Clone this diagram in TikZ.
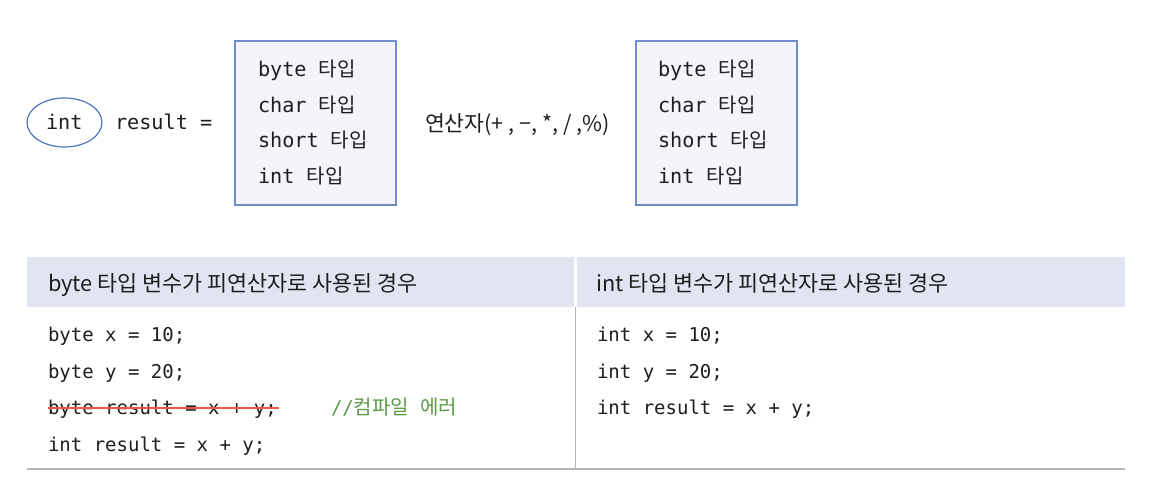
\documentclass[tikz,border=0pt]{standalone}
\usepackage{fontspec}
\setmainfont{Noto Sans CJK KR}
\newfontfamily\kr{Noto Sans CJK KR}
\newfontfamily\cmono{DejaVu Sans Mono}
\usetikzlibrary{shapes.geometric}
\definecolor{ink}{HTML}{1E1E1E}
\definecolor{boxline}{HTML}{6E8FCB}
\definecolor{boxfill}{HTML}{F4F5FA}
\definecolor{ellline}{HTML}{4D74C0}
\definecolor{hdrfill}{HTML}{E1E5F2}
\definecolor{rulegray}{HTML}{B4B4B4}
\definecolor{strikered}{HTML}{E8584A}
\definecolor{cmtgreen}{HTML}{5A9A47}
\newcommand\krtype{{\kr\fontsize{20}{24}\selectfont 타입}}
\newcommand\krcode[1]{{\kr\fontsize{20}{24}\selectfont #1}}
\begin{document}
\begin{tikzpicture}[x=1pt,y=-1pt,
  txt/.style={anchor=base west, inner sep=0pt, outer sep=0pt, text=ink},
  big/.style={txt, font=\cmono\fontsize{20.2}{24}\selectfont},
  code/.style={txt, font=\cmono\fontsize{19}{23}\selectfont},
  hdr/.style={txt, font=\kr\fontsize{21.8}{26}\selectfont},
  opstyle/.style={txt, font=\kr\fontsize{21.6}{25}\selectfont},
  typebox/.style={draw=boxline, fill=boxfill, line width=1.2pt, minimum width=161pt, minimum height=164pt, inner sep=0pt},
  strikeline/.style={color=strikered, line width=2pt},
  ]
\useasboundingbox[fill=white] (0,0) rectangle (1150,494);

% top row
\node[ellipse, draw=ellline, line width=1.2pt, minimum width=75pt, minimum height=49pt, inner sep=0pt] (ell) at (64.5,122.5) {};
\node[big] (intw) at (46,130) {int};
\node[big] (resw) at (115,130) {result =};

\node[typebox] (box1) at (315.5,123) {};
\node[big] (b1a) at (258,77) {byte \krtype};
\node[big] (b1b) at (258,112.5) {char \krtype};
\node[big] (b1c) at (258,148) {short \krtype};
\node[big] (b1d) at (258,183.5) {int \krtype};

\node[opstyle] (ops) at (425,132) {연산자(+ , −, *, / ,\%)};

\node[typebox] (box2) at (716.5,123) {};
\node[big] (b2a) at (658,77) {byte \krtype};
\node[big] (b2b) at (658,112.5) {char \krtype};
\node[big] (b2c) at (658,148) {short \krtype};
\node[big] (b2d) at (658,183.5) {int \krtype};

% table
\fill[hdrfill] (27,257) rectangle (574,307);
\fill[hdrfill] (577,257) rectangle (1125,307);
\node[hdr] (h1) at (48,291) {byte 타입 변수가 피연산자로 사용된 경우};
\node[hdr] (h2) at (596,291) {int 타입 변수가 피연산자로 사용된 경우};
\draw[rulegray, line width=1.5pt] (575.5,307) -- (575.5,468);
\draw[rulegray, line width=2pt] (27,468.5) -- (1125,468.5);

\node[code] (l1) at (48,341.5) {byte x = 10;};
\node[code] (l2) at (48,378.2) {byte y = 20;};
\node[code] (l3) at (48,414.9) {byte result = x + y;};
\node[code] (l4) at (48,451.6) {int result = x + y;};
\draw[strikeline] ([yshift=6.5pt]l3.base west) -- ([yshift=6.5pt,xshift=2pt]l3.base east);
\node[code, text=cmtgreen] (cm) at (331,414.9) {//\krcode{컴파일}\ \krcode{에러}};

\node[code] (r1) at (597,341.5) {int x = 10;};
\node[code] (r2) at (597,378.2) {int y = 20;};
\node[code] (r3) at (597,414.9) {int result = x + y;};
\end{tikzpicture}
\end{document}
